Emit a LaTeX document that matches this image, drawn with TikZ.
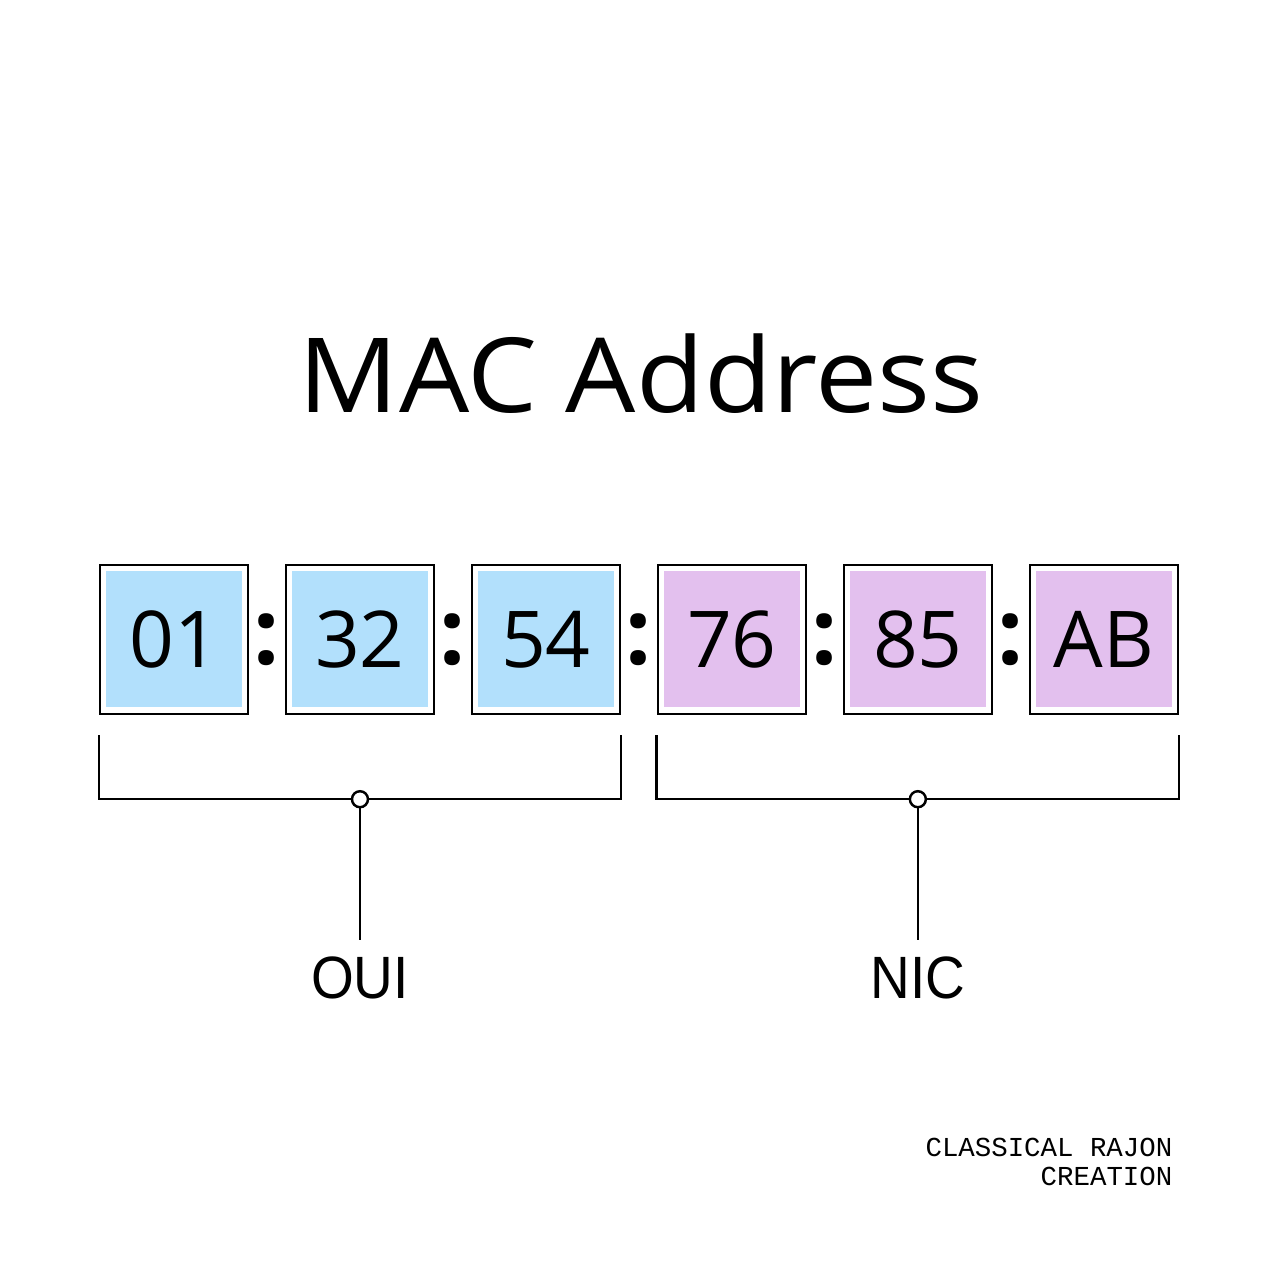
\documentclass[tikz,border=0pt]{standalone}
\usepackage{fontspec}
\setmainfont{Open Sans}
\newfontfamily\labelfont{Liberation Sans}
\newfontfamily\footfont{Liberation Mono}
\usepackage{tikz}
\usetikzlibrary{positioning,calc}
\definecolor{ouiblue}{RGB}{178,224,252}
\definecolor{nicpink}{RGB}{227,192,238}

\begin{document}
\begin{tikzpicture}
		\useasboundingbox (0,0) rectangle (12.8,12.8);
		\node[font=\fontsize{29.5}{34}\selectfont,anchor=base,xscale=1.07,transform shape] (title) at (6.41,8.67) {MAC Address};
		
		\node[draw=black,line width=0.7pt,minimum width=1.48cm,minimum height=1.49cm] (o1) at (1.74,6.405) {};
		\node[draw=black,line width=0.7pt,minimum width=1.48cm,minimum height=1.49cm,right=0.355cm of o1] (o2) {};
		\node[draw=black,line width=0.7pt,minimum width=1.48cm,minimum height=1.49cm,right=0.355cm of o2] (o3) {};
		\node[draw=black,line width=0.7pt,minimum width=1.48cm,minimum height=1.49cm,right=0.355cm of o3] (n1) {};
		\node[draw=black,line width=0.7pt,minimum width=1.48cm,minimum height=1.49cm,right=0.355cm of n1] (n2) {};
		\node[draw=black,line width=0.7pt,minimum width=1.48cm,minimum height=1.49cm,right=0.355cm of n2] (n3) {};
		
		\node[fill=ouiblue,minimum size=1.36cm,font=\fontsize{22.3}{26}\selectfont] (v1) at (o1.center) {01};
		\node[fill=ouiblue,minimum size=1.36cm,font=\fontsize{22.3}{26}\selectfont] (v2) at (o2.center) {32};
		\node[fill=ouiblue,minimum size=1.36cm,font=\fontsize{22.3}{26}\selectfont] (v3) at (o3.center) {54};
		\node[fill=nicpink,minimum size=1.36cm,font=\fontsize{22.3}{26}\selectfont] (v4) at (n1.center) {76};
		\node[fill=nicpink,minimum size=1.36cm,font=\fontsize{22.3}{26}\selectfont] (v5) at (n2.center) {85};
		\node[fill=nicpink,minimum size=1.36cm,font=\fontsize{22.3}{26}\selectfont] (v6) at (n3.center) {AB};
		
		\node[font=\fontsize{26}{30}\selectfont\bfseries] (c1) at ($(o1.east)!0.5!(o2.west)$) {:};
		\node[font=\fontsize{26}{30}\selectfont\bfseries] (c2) at ($(o2.east)!0.5!(o3.west)$) {:};
		\node[font=\fontsize{26}{30}\selectfont\bfseries] (c3) at ($(o3.east)!0.5!(n1.west)$) {:};
		\node[font=\fontsize{26}{30}\selectfont\bfseries] (c4) at ($(n1.east)!0.5!(n2.west)$) {:};
		\node[font=\fontsize{26}{30}\selectfont\bfseries] (c5) at ($(n2.east)!0.5!(n3.west)$) {:};
		
		\coordinate[shift={(0,-0.2)}] (ol) at (o1.south west);
		\coordinate[shift={(0,-0.2)}] (or) at (o3.south east);
		\coordinate[shift={(0,-0.84)}] (om) at ($(o1.south west)!0.5!(o3.south east)$);
		\draw[line width=0.7pt] (ol)--(ol|-om)--(or|-om)--(or);
		\node[circle,draw=black,fill=white,line width=0.7pt,inner sep=0pt,minimum size=0.16cm] (odot) at (om) {};
		\node[font=\labelfont\fontsize{17}{20}\selectfont,anchor=base,xscale=0.92,transform shape] (oui) at ($(om)+(0,-1.99)$) {OUI};
		\draw[line width=0.7pt] (odot.south)--++(0,-1.32);
		
		\coordinate[shift={(0,-0.2)}] (nl) at (n1.south west);
		\coordinate[shift={(0,-0.2)}] (nr) at (n3.south east);
		\coordinate[shift={(0,-0.84)}] (nm) at ($(n1.south west)!0.5!(n3.south east)$);
		\draw[line width=0.7pt] (nl)--(nl|-nm)--(nr|-nm)--(nr);
		\node[circle,draw=black,fill=white,line width=0.7pt,inner sep=0pt,minimum size=0.16cm] (ndot) at (nm) {};
		\node[font=\labelfont\fontsize{17}{20}\selectfont,anchor=base,xscale=0.92,transform shape] (nic) at ($(nm)+(0,-1.99)$) {NIC};
		\draw[line width=0.7pt] (ndot.south)--++(0,-1.32);
		
		\node[font=\footfont\fontsize{7.8}{8.25}\selectfont,align=right,anchor=north east,inner sep=0pt] (credit) at (11.73,1.43) {CLASSICAL RAJON\\CREATION};
	\end{tikzpicture}
\end{document}
